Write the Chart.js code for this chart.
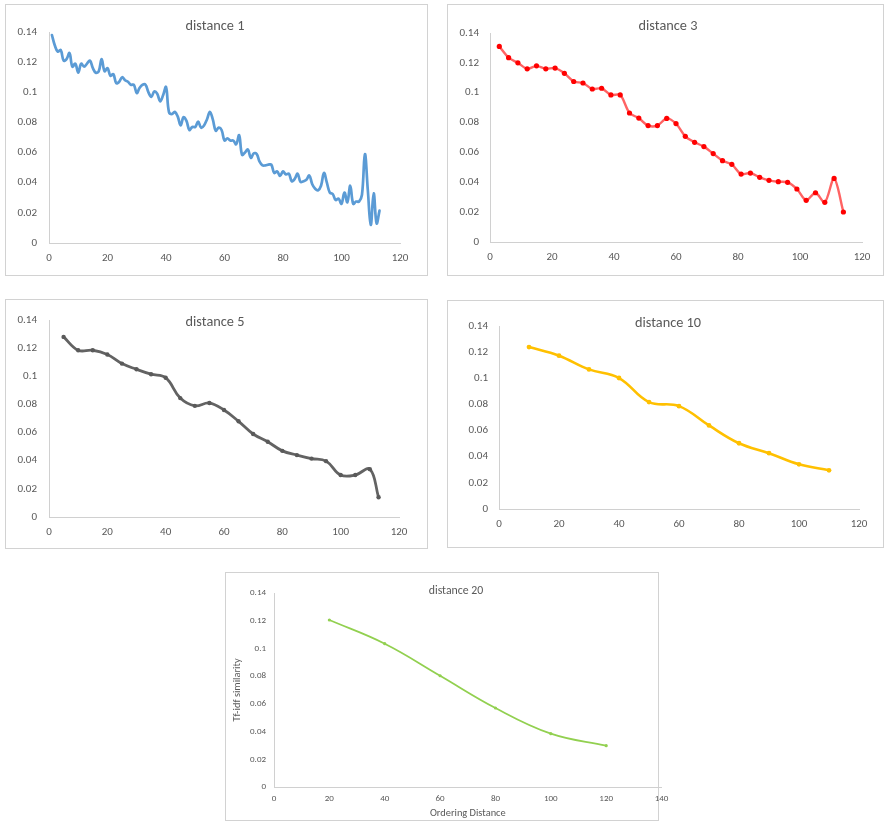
<!DOCTYPE html>
<html>
<head>
<meta charset="utf-8">
<script src="https://cdn.jsdelivr.net/npm/chart.js@4/dist/chart.umd.min.js"></script>
<style>
  html, body { margin: 0; padding: 0; background: #ffffff; }
  body { width: 885px; height: 821px; position: relative; overflow: hidden; }
  .frame { position: absolute; box-sizing: border-box; border: 1px solid #d2d2d2; background: #ffffff; }
  canvas.panel { position: absolute; }
</style>
</head>
<body>
<script>
// ---- shared axis labels ----
const yTickLabels = ['0', '0.02', '0.04', '0.06', '0.08', '0.1', '0.12', '0.14'];
const xTickLabels120 = ['0', '20', '40', '60', '80', '100', '120'];
const xTickLabels140 = ['0', '20', '40', '60', '80', '100', '120', '140'];

// ---- distance 1 ----
const dist1X = [1,2,3,4,5,6,7,8,9,10,11,12,13,14,15,16,17,18,19,20,
  21,22,23,24,25,26,27,28,29,30,31,32,33,34,35,36,37,38,39,40,
  41,42,43,44,45,46,47,48,49,50,51,52,53,54,55,56,57,58,59,60,
  61,62,63,64,65,66,67,68,69,70,71,72,73,74,75,76,77,78,79,80,
  81,82,83,84,85,86,87,88,89,90,91,92,93,94,95,96,97,98,99,100,
  101,102,103,104,105,106,107,108,109,110,111,112,113];
const dist1Y = [0.138,0.131,0.127,0.128,0.121,0.122,0.126,0.117,0.119,0.113,
  0.119,0.117,0.119,0.121,0.116,0.113,0.114,0.122,0.114,0.116,
  0.111,0.112,0.106,0.107,0.110,0.108,0.107,0.105,0.105,0.0995,
  0.103,0.105,0.105,0.100,0.097,0.1005,0.099,0.094,0.098,0.1035,
  0.087,0.0855,0.087,0.084,0.078,0.0835,0.081,0.075,0.077,0.077,
  0.0805,0.0765,0.078,0.082,0.087,0.082,0.0745,0.0765,0.075,0.068,
  0.0695,0.068,0.068,0.0655,0.0715,0.0585,0.060,0.062,0.0565,0.0595,
  0.059,0.054,0.0515,0.0515,0.052,0.052,0.0465,0.0475,0.0445,0.0475,
  0.0455,0.046,0.041,0.0425,0.046,0.0405,0.041,0.042,0.0448,0.039,
  0.036,0.035,0.038,0.0465,0.040,0.0335,0.0325,0.0285,0.0295,0.026,
  0.0335,0.027,0.038,0.026,0.0275,0.0275,0.032,0.059,0.035,0.012,
  0.033,0.013,0.0215];

// ---- distance 3 ----
const dist3X = [3,6,9,12,15,18,21,24,27,30,33,36,39,42,45,48,51,54,57,60,
  63,66,69,72,75,78,81,84,87,90,93,96,99,102,105,108,111,114];
const dist3Y = [0.131,0.1235,0.120,0.116,0.118,0.116,0.1165,0.113,0.1075,0.1065,
  0.1025,0.103,0.0985,0.0985,0.0864,0.083,0.078,0.078,0.0828,0.0793,
  0.0708,0.0668,0.0639,0.0592,0.0545,0.052,0.0455,0.0462,0.0433,0.0413,
  0.0404,0.040,0.0355,0.0279,0.033,0.0266,0.0426,0.0201];

// ---- distance 5 ----
const dist5X = [5,10,15,20,25,30,35,40,45,50,55,60,65,70,75,80,85,90,95,100,105,110,113];
const dist5Y = [0.128,0.1185,0.1185,0.1155,0.109,0.105,0.1015,0.099,0.0845,0.079,
  0.081,0.076,0.068,0.059,0.0535,0.047,0.044,0.0415,0.0397,0.0298,
  0.0298,0.034,0.014];

// ---- distance 10 ----
const dist10X = [10,20,30,40,50,60,70,80,90,100,110];
const dist10Y = [0.1239,0.1173,0.1068,0.1002,0.0818,0.0787,0.0639,0.0503,0.0427,0.0342,0.0296];

// ---- distance 20 ----
const dist20X = [20,40,60,80,100,120];
const dist20Y = [0.1205,0.1034,0.0803,0.057,0.0385,0.0298];

const FONT_FAMILY = "Calibri, Carlito, 'Liberation Sans', Arial, sans-serif";
const TEXT_GRAY = '#595959';
const AXIS_GRAY = '#d0d0d0';

// Draws the chart heading inside the plot frame, the way the spreadsheet places it.
const headingPlugin = {
  id: 'heading',
  afterDraw(chart, args, opts) {
    const ctx = chart.ctx;
    ctx.save();
    ctx.font = opts.size + 'px ' + FONT_FAMILY;
    ctx.fillStyle = TEXT_GRAY;
    ctx.textAlign = 'center';
    ctx.textBaseline = 'middle';
    ctx.fillText(opts.text, opts.x, opts.y);
    ctx.restore();
  }
};

function buildPanel(p) {
  const frame = document.createElement('div');
  frame.className = 'frame';
  Object.assign(frame.style, {
    left: p.frame[0] + 'px', top: p.frame[1] + 'px',
    width: p.frame[2] + 'px', height: p.frame[3] + 'px'
  });
  document.body.appendChild(frame);

  const cv = document.createElement('canvas');
  cv.className = 'panel';
  cv.width = p.canvas[2];
  cv.height = p.canvas[3];
  Object.assign(cv.style, {
    left: p.canvas[0] + 'px', top: p.canvas[1] + 'px',
    width: p.canvas[2] + 'px', height: p.canvas[3] + 'px'
  });
  document.body.appendChild(cv);

  const tickFont = { family: FONT_FAMILY, size: p.tickSize };
  const points = p.xs.map((x, i) => ({ x: x, y: p.ys[i] }));

  new Chart(cv, {
    type: 'line',
    data: {
      datasets: [{
        data: points,
        borderColor: p.lineColor,
        borderWidth: p.lineWidth,
        pointRadius: p.pointRadius,
        pointBackgroundColor: p.pointColor,
        pointBorderWidth: 0,
        tension: p.tension,
        fill: false,
        borderCapStyle: 'round',
        borderJoinStyle: 'round'
      }]
    },
    options: {
      responsive: false,
      animation: false,
      events: [],
      layout: { padding: { left: 0, top: p.padTop, right: p.padRight, bottom: 0 } },
      plugins: {
        legend: { display: false },
        tooltip: { enabled: false },
        title: { display: false },
        heading: { text: p.title, x: p.titlePos[0], y: p.titlePos[1], size: p.titleSize }
      },
      scales: {
        x: {
          type: 'linear',
          min: 0,
          max: p.xMax,
          grid: { display: false, drawTicks: false },
          border: { display: true, color: AXIS_GRAY, width: 1 },
          ticks: {
            stepSize: 20,
            autoSkip: false,
            maxRotation: 0,
            font: tickFont,
            color: TEXT_GRAY,
            padding: p.xTickPad,
            callback: (v, i) => p.xLabels[i]
          },
          title: p.xTitle ? {
            display: true, text: p.xTitle, color: TEXT_GRAY,
            font: { family: FONT_FAMILY, size: p.axisTitleSize },
            padding: { top: 0, bottom: p.xTitlePad }
          } : { display: false },
          afterFit: (s) => { s.height = p.xAxisH; }
        },
        y: {
          type: 'linear',
          min: 0,
          max: 0.14,
          grid: { display: false, drawTicks: false },
          border: { display: true, color: AXIS_GRAY, width: 1 },
          ticks: {
            stepSize: 0.02,
            font: tickFont,
            color: TEXT_GRAY,
            padding: p.yTickPad,
            callback: (v, i) => yTickLabels[i]
          },
          title: p.yTitle ? {
            display: true, text: p.yTitle, color: TEXT_GRAY,
            font: { family: FONT_FAMILY, size: p.axisTitleSize },
            padding: { top: p.yTitlePad, bottom: 0 }
          } : { display: false },
          afterFit: (s) => { s.width = p.yAxisW; }
        }
      }
    },
    plugins: [headingPlugin]
  });
}

buildPanel({
  title: 'distance 1', xs: dist1X, ys: dist1Y, xLabels: xTickLabels120, xMax: 120,
  frame: [5, 4, 423, 272], canvas: [5, 4, 423, 272],
  padTop: 28, padRight: 28, yAxisW: 44, xAxisH: 33,
  titlePos: [210, 22], titleSize: 14.3, tickSize: 11, xTickPad: 8.4, yTickPad: 12,
  lineColor: '#5b9bd5', lineWidth: 2.7, pointRadius: 0, pointColor: '#5b9bd5', tension: 0.4
});

buildPanel({
  title: 'distance 3', xs: dist3X, ys: dist3Y, xLabels: xTickLabels120, xMax: 120,
  frame: [447, 4, 437, 272], canvas: [447, 4, 437, 272],
  padTop: 29, padRight: 22, yAxisW: 43, xAxisH: 34,
  titlePos: [221, 22], titleSize: 14.3, tickSize: 11, xTickPad: 8.4, yTickPad: 11,
  lineColor: 'rgba(255, 60, 60, 0.8)', lineWidth: 2.4, pointRadius: 2.6, pointColor: '#ff0000', tension: 0.3
});

buildPanel({
  title: 'distance 5', xs: dist5X, ys: dist5Y, xLabels: xTickLabels120, xMax: 120,
  frame: [5, 299, 423, 250], canvas: [5, 299, 423, 250],
  padTop: 21, padRight: 29, yAxisW: 44, xAxisH: 32,
  titlePos: [210, 23], titleSize: 14.3, tickSize: 11, xTickPad: 8.4, yTickPad: 12,
  lineColor: '#636363', lineWidth: 2.8, pointRadius: 2.2, pointColor: '#5a5a5a', tension: 0.4
});

buildPanel({
  title: 'distance 10', xs: dist10X, ys: dist10Y, xLabels: xTickLabels120, xMax: 120,
  frame: [447, 300, 437, 248], canvas: [447, 300, 437, 248],
  padTop: 26, padRight: 25, yAxisW: 52, xAxisH: 39,
  titlePos: [221, 23], titleSize: 14.3, tickSize: 11, xTickPad: 8.4, yTickPad: 11,
  lineColor: '#ffc000', lineWidth: 2.6, pointRadius: 2.4, pointColor: '#ffc000', tension: 0.4
});

buildPanel({
  title: 'distance 20', xs: dist20X, ys: dist20Y, xLabels: xTickLabels140, xMax: 140,
  frame: [225, 572, 434, 249], canvas: [225, 572, 450, 249],
  padTop: 21, padRight: 12, yAxisW: 49, xAxisH: 34,
  titlePos: [231, 19], titleSize: 11.8, tickSize: 9, xTickPad: 6.6, yTickPad: 8,
  xTitle: 'Ordering Distance', yTitle: 'Tf-idf similarity', axisTitleSize: 10.4,
  xTitlePad: 1.7, yTitlePad: 5.7,
  lineColor: '#92d050', lineWidth: 1.8, pointRadius: 1.6, pointColor: '#92d050', tension: 0.4
});
</script>
</body>
</html>
